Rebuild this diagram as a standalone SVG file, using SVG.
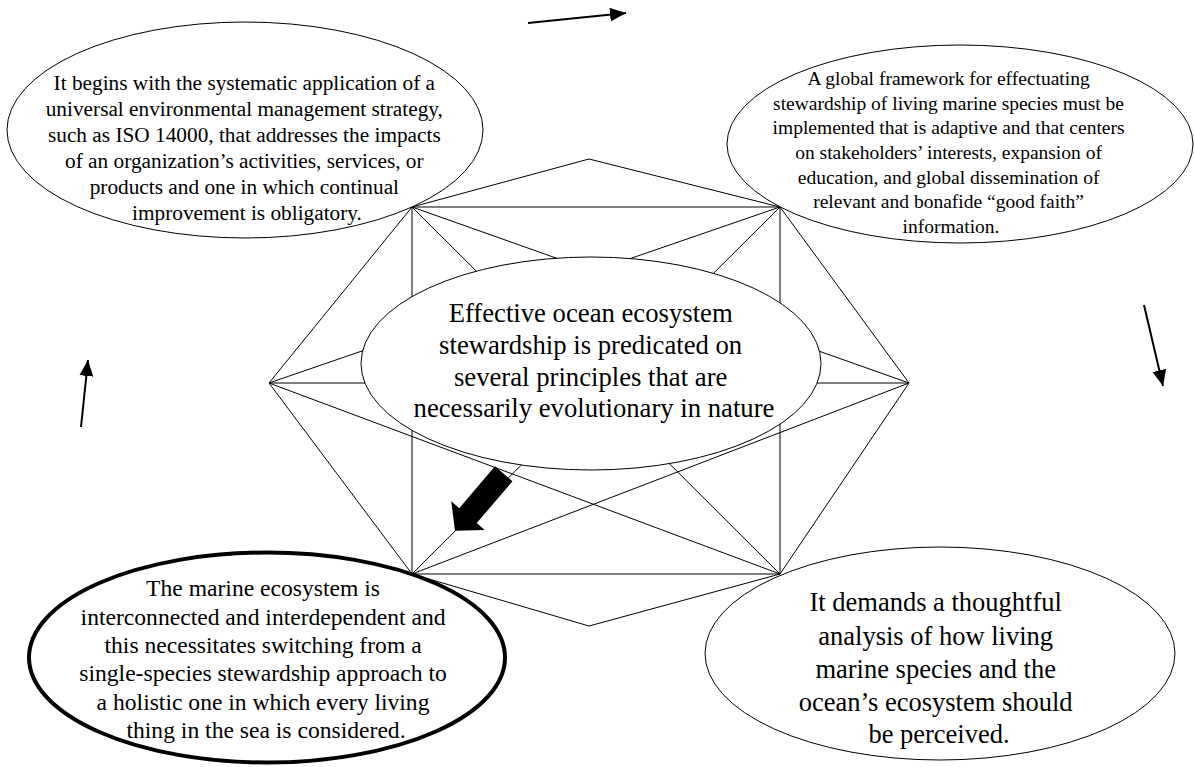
<svg xmlns="http://www.w3.org/2000/svg" width="1195" height="767" viewBox="0 0 1195 767">
  <defs>
    <marker id="head" markerUnits="userSpaceOnUse" markerWidth="17" markerHeight="15" refX="16" refY="7" orient="auto">
      <path d="M0,0 L16,7 L0,14 z" fill="#000"/>
    </marker>
    <style>
      .edge { stroke: #000; stroke-width: 1; fill: none; }
      .flow { stroke: #000; stroke-width: 2; fill: none; marker-end: url(#head); }
      .node { fill: #fff; stroke: #000; stroke-width: 1; }
      .bold { fill: #fff; stroke: #000; stroke-width: 4; }
      text { font-family: "Liberation Serif", "Times New Roman", serif; fill: #000; text-anchor: middle; }
    </style>
  </defs>
  <rect width="1195" height="767" fill="#fff"/>

  <!-- hexagon frame with its internal bracing -->
  <g id="connectors">
    <polygon class="edge" points="589,159 412,207 269,383 412,574 589,626 780,574 909,383 780,207"/>
    <line class="edge" x1="412" y1="207" x2="780" y2="207"/>
    <line class="edge" x1="412" y1="574" x2="780" y2="574"/>
    <line class="edge" x1="269" y1="383" x2="909" y2="383"/>
    <line class="edge" x1="412" y1="207" x2="412" y2="574"/>
    <line class="edge" x1="780" y1="207" x2="780" y2="574"/>
    <line class="edge" x1="269" y1="383" x2="780" y2="207"/>
    <line class="edge" x1="269" y1="383" x2="780" y2="574"/>
    <line class="edge" x1="909" y1="383" x2="412" y2="207"/>
    <line class="edge" x1="909" y1="383" x2="412" y2="574"/>
    <line class="edge" x1="412" y1="207" x2="780" y2="574"/>
    <line class="edge" x1="780" y1="207" x2="412" y2="574"/>

    <!-- circulation arrows around the outside -->
    <line class="flow" x1="528" y1="23" x2="626" y2="13"/>
    <line class="flow" x1="1144" y1="305" x2="1163" y2="386"/>
    <line class="flow" x1="81" y1="427" x2="88" y2="360"/>
  </g>

  <g id="principle-management">
    <ellipse class="node" cx="245" cy="130" rx="238" ry="108"/>
    <text font-size="21.3">
      <tspan x="247" y="90">It begins with the systematic application of a</tspan>
      <tspan x="247" y="116">universal environmental management strategy,</tspan>
      <tspan x="247" y="142">such as ISO 14000, that addresses the impacts</tspan>
      <tspan x="247" y="168">of an organization’s activities, services, or</tspan>
      <tspan x="247" y="194">products and one in which continual</tspan>
      <tspan x="247" y="220">improvement is obligatory.</tspan>
    </text>
  </g>

  <g id="principle-framework">
    <ellipse class="node" cx="960" cy="144" rx="233" ry="99"/>
    <text font-size="19.5">
      <tspan x="951" y="85">A global framework for effectuating</tspan>
      <tspan x="951" y="109.5">stewardship of living marine species must be</tspan>
      <tspan x="951" y="134">implemented that is adaptive and that centers</tspan>
      <tspan x="951" y="159">on stakeholders’ interests, expansion of</tspan>
      <tspan x="951" y="183.5">education, and global dissemination of</tspan>
      <tspan x="951" y="208">relevant and bonafide “good faith”</tspan>
      <tspan x="951" y="233">information.</tspan>
    </text>
  </g>

  <g id="core">
    <ellipse class="node" cx="591" cy="363.5" rx="230" ry="106.5"/>
    <text font-size="26.7">
      <tspan x="594" y="322">Effective ocean ecosystem</tspan>
      <tspan x="594" y="354">stewardship is predicated on</tspan>
      <tspan x="594" y="386">several principles that are</tspan>
      <tspan x="594" y="417">necessarily evolutionary in nature</tspan>
    </text>
  </g>

  <!-- bold pointer toward the highlighted principle -->
  <g id="pointer">
    <polygon fill="#000" points="0,-11.5 55,-11.5 55,-22 75,0 55,22 55,11.5 0,11.5" transform="translate(503.7,473.8) rotate(130.5)"/>
  </g>

  <g id="principle-holistic">
    <ellipse class="bold" cx="267" cy="657.5" rx="238" ry="105"/>
    <text font-size="23.6">
      <tspan x="266" y="596">The marine ecosystem is</tspan>
      <tspan x="266" y="624.5">interconnected and interdependent and</tspan>
      <tspan x="266" y="653">this necessitates switching from a</tspan>
      <tspan x="266" y="681">single-species stewardship approach to</tspan>
      <tspan x="266" y="709.5">a holistic one in which every living</tspan>
      <tspan x="266" y="738">thing in the sea is considered.</tspan>
    </text>
  </g>

  <g id="principle-analysis">
    <ellipse class="node" cx="940" cy="653.5" rx="235" ry="106.5"/>
    <text font-size="26.5">
      <tspan x="939" y="611">It demands a thoughtful</tspan>
      <tspan x="939" y="644.5">analysis of how living</tspan>
      <tspan x="939" y="677.5">marine species and the</tspan>
      <tspan x="939" y="710.5">ocean’s ecosystem should</tspan>
      <tspan x="939" y="743">be perceived.</tspan>
    </text>
  </g>
</svg>
